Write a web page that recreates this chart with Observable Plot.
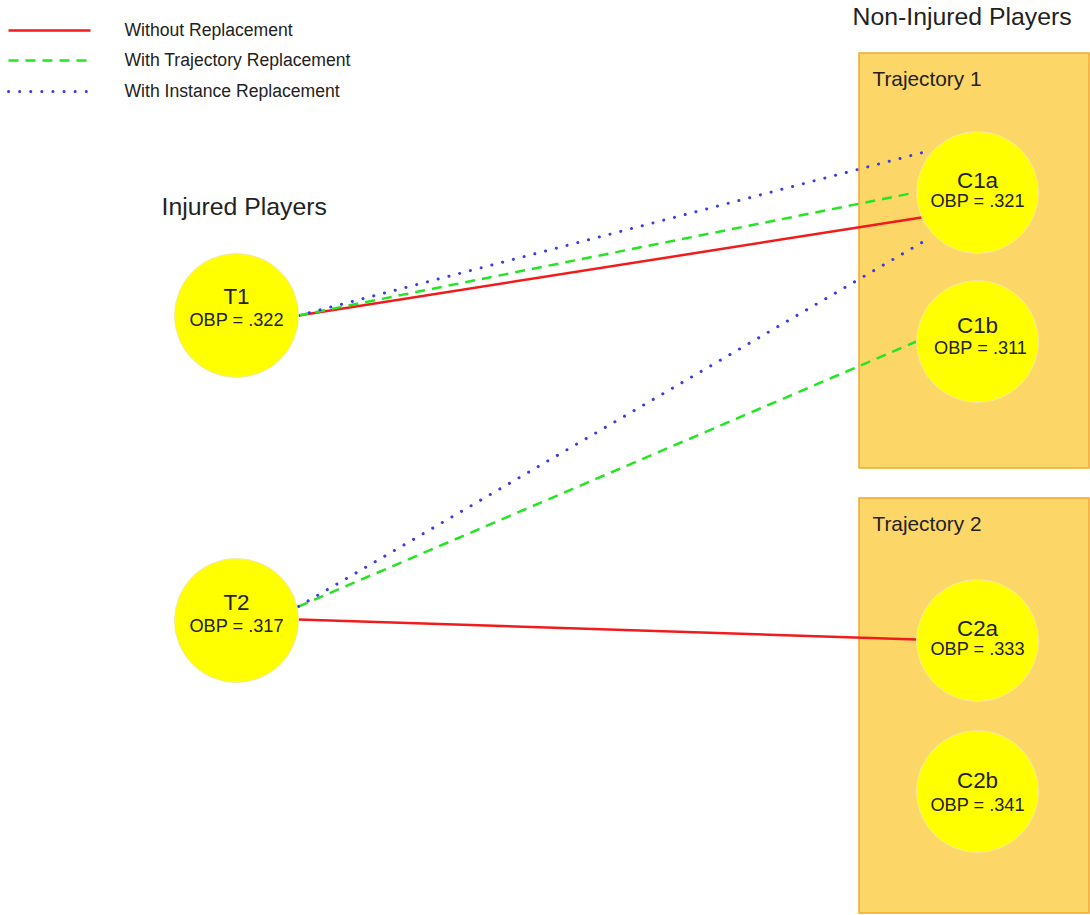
<!DOCTYPE html>
<html>
<head>
<meta charset="utf-8">
<script src="https://cdn.jsdelivr.net/npm/d3@7"></script>
<script src="https://cdn.jsdelivr.net/npm/@observablehq/plot@0.6"></script>
<style>
  html, body { margin: 0; padding: 0; background: #fff; }
  #chart svg { display: block; }
</style>
</head>
<body>
<div id="chart"></div>
<script>
// Nodes (players)
const nodeNames = ["T1", "T2", "C1a", "C1b", "C2a", "C2b"];
const nodeOBP = [".322", ".317", ".321", ".311", ".333", ".341"];
const nodeX = [236, 236, 977, 977, 977, 977];
const nodeY = [315, 620, 192, 341, 640, 791];
const nodeR = [62, 62, 61, 61, 61, 61];
const nameY = [296, 602, 180, 325, 628, 780];
const obpY = [320, 626, 201, 348, 649, 805];
const obpX = [236, 236, 977, 980, 977, 977];

// Trajectory groups
const groupNames = ["Trajectory 1", "Trajectory 2"];
const groupX1 = [859, 859];
const groupX2 = [1089, 1089];
const groupY1 = [53, 498];
const groupY2 = [468, 913];

// Matching edges
const edgeType = ["without", "trajectory", "instance", "instance", "trajectory", "without"];
const edgeX1 = [298, 298, 298, 298, 298, 298];
const edgeY1 = [315, 315, 315, 606, 606, 619];
const edgeX2 = [921, 915, 930, 930, 916, 916];
const edgeY2 = [217, 192, 150, 237, 341, 639];

// Legend
const legendTypes = ["without", "trajectory", "instance"];
const legendLabels = ["Without Replacement", "With Trajectory Replacement", "With Instance Replacement"];
const legendY = [30, 60, 91];

const styles = {
  without: {stroke: "#f21b1b", dash: null, width: 2.5, cap: "butt"},
  trajectory: {stroke: "#22e622", dash: "10 7", width: 2.5, cap: "butt"},
  instance: {stroke: "#3a3ae8", dash: "0.1 11", width: 3, cap: "round"}
};

const nodes = nodeNames.map((n, i) => ({name: n, obp: "OBP = " + nodeOBP[i], x: nodeX[i], y: nodeY[i], r: nodeR[i], ny: nameY[i], oy: obpY[i], ox: obpX[i]}));
const groups = groupNames.map((g, i) => ({name: g, x1: groupX1[i], x2: groupX2[i], y1: groupY1[i], y2: groupY2[i]}));
const edges = edgeType.map((t, i) => ({type: t, x1: edgeX1[i], y1: edgeY1[i], x2: edgeX2[i], y2: edgeY2[i]}));
const legend = legendTypes.map((t, i) => ({type: t, label: legendLabels[i], y: legendY[i]}));

const linkMarks = [];
for (const t of legendTypes) {
  const s = styles[t];
  const opts = {stroke: s.stroke, strokeWidth: s.width, strokeLinecap: s.cap};
  if (s.dash) opts.strokeDasharray = s.dash;
  linkMarks.push(Plot.link(edges.filter(d => d.type === t), {x1: "x1", y1: "y1", x2: "x2", y2: "y2", ...opts}));
  linkMarks.push(Plot.link(legend.filter(d => d.type === t), {x1: () => 8, x2: () => 90, y1: "y", y2: "y", ...opts}));
}

const chart = Plot.plot({
  width: 1090,
  height: 915,
  margin: 0,
  x: {domain: [0, 1090], range: [0, 1090], axis: null},
  y: {domain: [0, 915], range: [0, 915], axis: null},
  r: {type: "identity"},
  style: {fontFamily: "Arial, 'Liberation Sans', sans-serif", background: "#fff"},
  marks: [
    Plot.rect(groups, {x1: "x1", x2: "x2", y1: "y1", y2: "y2", fill: "#fdd668", stroke: "#f3a632", strokeWidth: 1.5}),
    Plot.text(groups, {x: d => d.x1 + 13, y: d => d.y1 + 26, text: "name", textAnchor: "start", fontSize: 20.8, fill: "#222"}),
    ...linkMarks,
    Plot.dot(nodes, {x: "x", y: "y", r: "r", fill: "#ffff00", stroke: "#f2e6b0", strokeWidth: 1}),
    Plot.text(nodes, {x: "x", y: "ny", text: "name", fontSize: 22.4, fill: "#222"}),
    Plot.text(nodes, {x: "ox", y: "oy", text: "obp", fontSize: 18.2, fill: "#222"}),
    Plot.text(legend, {x: () => 124, y: "y", text: "label", textAnchor: "start", fontSize: 17.6, fill: "#222"}),
    Plot.text(["Injured Players"], {x: () => 161, y: () => 207, text: d => d, textAnchor: "start", fontSize: 24.8, fill: "#222"}),
    Plot.text(["Non-Injured Players"], {x: () => 852, y: () => 17, text: d => d, textAnchor: "start", fontSize: 24.8, fill: "#222"})
  ]
});
document.getElementById("chart").appendChild(chart);
</script>
</body>
</html>
